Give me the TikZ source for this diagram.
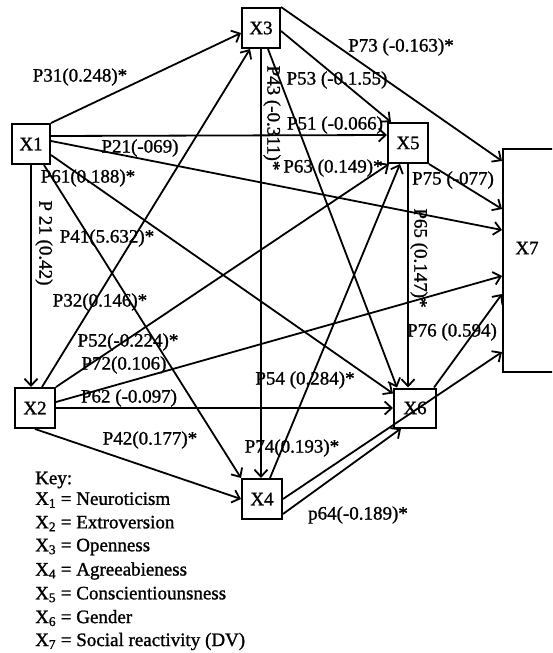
\documentclass[tikz,border=0pt]{standalone}
\usepackage{fontspec}
\setmainfont{Liberation Serif}[RawFeature={embolden=1.2}]
\usetikzlibrary{arrows.meta}
\tikzset{
  box/.style={draw, line width=2pt, rectangle, inner sep=0pt, minimum width=38pt, minimum height=40pt, font=\fontsize{19}{22}\selectfont},
  arr/.style={line width=1.8pt, -{Straight Barb[length=7pt,width=13pt,line width=1.8pt]}},
  lbl/.style={inner sep=0pt, font=\fontsize{19}{22}\selectfont},
  keyline/.style={inner sep=0pt, anchor=west, font=\fontsize{19}{22}\selectfont}
}
\begin{document}
\begin{tikzpicture}[x=1pt,y=-1pt]
\clip (0,0) rectangle (552,653);
\fill[white] (0,0) rectangle (552,653);
% nodes
\node[box] (X1) at (31,144) {X1};
\node[box] (X3) at (261,28) {X3};
\node[box, minimum width=40pt] (X5) at (408,143) {X5};
\node[box, minimum width=40pt] (X2) at (35,408) {X2};
\node[box, minimum width=42pt, minimum height=39pt] (X6) at (415,408) {X6};
\node[box, minimum width=40pt] (X4) at (262,499) {X4};
\node[box, minimum width=70pt, minimum height=223pt] (X7) at (538,260.5) {};
\node[lbl] (X7t) at (527,248) {X7};
% edges
\draw[arr] (X1.north east) -- ([yshift=-5pt]X3.west);
\draw[arr] ([yshift=8pt]X1.east) -- ([yshift=8pt]X5.west);
\draw[arr] ([yshift=3pt]X1.east) -- ([yshift=-82pt]X7.north west);
\draw[arr] (X1.south) -- (X1.south |- X2.north);
\draw[arr] ([yshift=-11pt]X1.east) -- ([yshift=-6pt]X6.north west);
\draw[arr] ([xshift=-7pt]X1.south east) -- (X4.north west);
\draw[arr] ([xshift=-14pt]X2.north east) -- ([xshift=-11pt]X3.south);
\draw[arr] (X2.north east) -- ([xshift=2pt]X5.south west);
\draw[arr] ([yshift=6pt]X2.east) -- ([yshift=-128pt]X7.north west);
\draw[arr] (X2.east) -- (X6.west);
\draw[arr] (X2.south) -- (X4.west);
\draw[arr] (X3.south) -- (X3.south |- X4.north);
\draw[arr] ([yshift=-3pt]X3.east) -- ([xshift=4pt]X5.north west);
\draw[arr] (X3.north east) -- ([yshift=-13pt]X7.north west);
\draw[arr] ([xshift=7pt]X3.south) -- ([xshift=4pt]X6.north west);
\draw[arr] ([xshift=8pt]X4.north) -- ([xshift=-8pt]X5.south);
\draw[arr] ([yshift=-15pt]X4.east) -- ([xshift=-14pt]X6.south);
\draw[arr] (X4.east) -- ([yshift=-204pt]X7.north west);
\draw[arr] (X5.south) -- (X5.south |- X6.north);
\draw[arr] (X5.south east) -- ([yshift=-61pt]X7.north west);
\draw[arr] ([xshift=-3pt]X6.north east) -- ([yshift=-146pt]X7.north west);
% labels
\node[lbl] (l31) at (80,77) {P31(0.248)*};
\node[lbl] (l73) at (401,47) {P73 (-0.163)*};
\node[lbl] (l53) at (337,80) {P53 (-0.1.55)};
\node[lbl] (l51) at (335,125) {P51 (-0.066)};
\node[lbl] (l21b) at (140,148) {P21(-069)};
\node[lbl] (l61) at (88,178) {P61(0.188)*};
\node[lbl] (l63) at (333,168) {P63 (0.149)*};
\node[lbl] (l75) at (453,180) {P75 (-077)};
\node[lbl] (l41) at (107,238) {P41(5.632)*};
\node[lbl] (l32) at (100,302) {P32(0.146)*};
\node[lbl] (l52) at (128,342) {P52(-0.224)*};
\node[lbl] (l72) at (124,365) {P72(0.106)};
\node[lbl] (l62) at (129,398) {P62 (-0.097)};
\node[lbl] (l42) at (150,440) {P42(0.177)*};
\node[lbl] (l54) at (305,380) {P54 (0.284)*};
\node[lbl] (l74) at (292,448) {P74(0.193)*};
\node[lbl] (l64) at (358,515) {p64(-0.189)*};
\node[lbl] (l76) at (452,332) {P76 (0.594)};
\node[lbl, rotate=-90] (l21) at (44,243) {P 21 (0.42)};
\node[lbl, rotate=-90] (l43) at (272,118) {P43 (-0.311)*};
\node[lbl, rotate=-90] (l65) at (419,258) {P65 (0.147)*};
% key
\node[keyline] (k0) at (35,480) {Key:};
\node[keyline] (k1) at (35,500) {X\textsubscript{1} = Neuroticism};
\node[keyline] (k2) at (35,523.5) {X\textsubscript{2} = Extroversion};
\node[keyline] (k3) at (35,547) {X\textsubscript{3} = Openness};
\node[keyline] (k4) at (35,571) {X\textsubscript{4} = Agreeabieness};
\node[keyline] (k5) at (35,594.5) {X\textsubscript{5} = Conscientiounsness};
\node[keyline] (k6) at (35,618) {X\textsubscript{6} = Gender};
\node[keyline] (k7) at (35,641.5) {X\textsubscript{7} = Social reactivity (DV)};
\end{tikzpicture}
\end{document}
